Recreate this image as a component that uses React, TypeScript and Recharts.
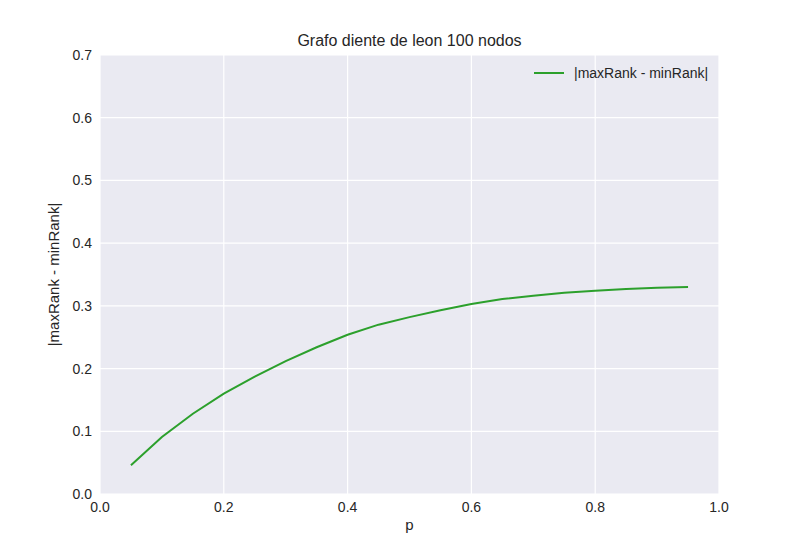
import React from "react";
import { LineChart, Line, XAxis, YAxis, CartesianGrid } from "recharts";

const pValues = [0.05,0.1,0.15,0.2,0.25,0.3,0.35,0.4,0.45,0.5,0.55,0.6,0.65,0.7,0.75,0.8,0.85,0.9,0.95];
const diffValues = [0.046,0.091,0.128,0.160,0.187,0.212,0.234,0.254,0.270,0.282,0.293,0.303,0.311,0.316,0.321,0.324,0.327,0.329,0.330];
const xTicks = [0,0.2,0.4,0.6,0.8,1.0];
const yTicks = [0,0.1,0.2,0.3,0.4,0.5,0.6,0.7];
const seriesName = "|maxRank - minRank|";

const data = pValues.map((p, i) => ({ p, v: diffValues[i] }));
const font = "'Liberation Sans', Arial, sans-serif";

export default function App() {
  return (
    <div style={{ position: "absolute", left: 0, top: 0, width: 800, height: 550, background: "#fff", fontFamily: font }}>
      <div style={{ position: "absolute", top: 32, left: 100, width: 619, textAlign: "center", fontSize: 16, color: "#262626" }}>
        Grafo diente de leon 100 nodos
      </div>
      <LineChart width={800} height={550} data={data} margin={{ top: 55, right: 81, left: 40, bottom: 16 }}>
        <CartesianGrid fill="#EAEAF2" stroke="#ffffff" strokeWidth={1.2} horizontalValues={yTicks} verticalValues={xTicks} />
        <XAxis dataKey="p" type="number" domain={[0, 1]} ticks={xTicks} tickFormatter={(v) => v.toFixed(1)}
          axisLine={false} tickLine={false} height={40} tick={{ fill: "#262626", fontSize: 14, fontFamily: font }} tickMargin={2}
          label={{ value: "p", position: "insideBottom", offset: 4, fill: "#262626", fontSize: 15, fontFamily: font }} />
        <YAxis type="number" domain={[0, 0.7]} ticks={yTicks} tickFormatter={(v) => v.toFixed(1)}
          axisLine={false} tickLine={false} width={60} tick={{ fill: "#262626", fontSize: 14, fontFamily: font }} tickMargin={2}
          label={{ value: seriesName, angle: -90, position: "insideLeft", offset: 14, style: { textAnchor: "middle" }, fill: "#262626", fontSize: 15, fontFamily: font }} />
        <Line type="linear" dataKey="v" name={seriesName} stroke="#2CA02C" strokeWidth={2} dot={false} isAnimationActive={false} />
      </LineChart>
      <div style={{ position: "absolute", top: 65, left: 534, display: "flex", alignItems: "center", color: "#262626", fontSize: 14 }}>
        <span style={{ display: "inline-block", width: 30, height: 2, background: "#2CA02C", marginRight: 10 }} />
        {seriesName}
      </div>
    </div>
  );
}
